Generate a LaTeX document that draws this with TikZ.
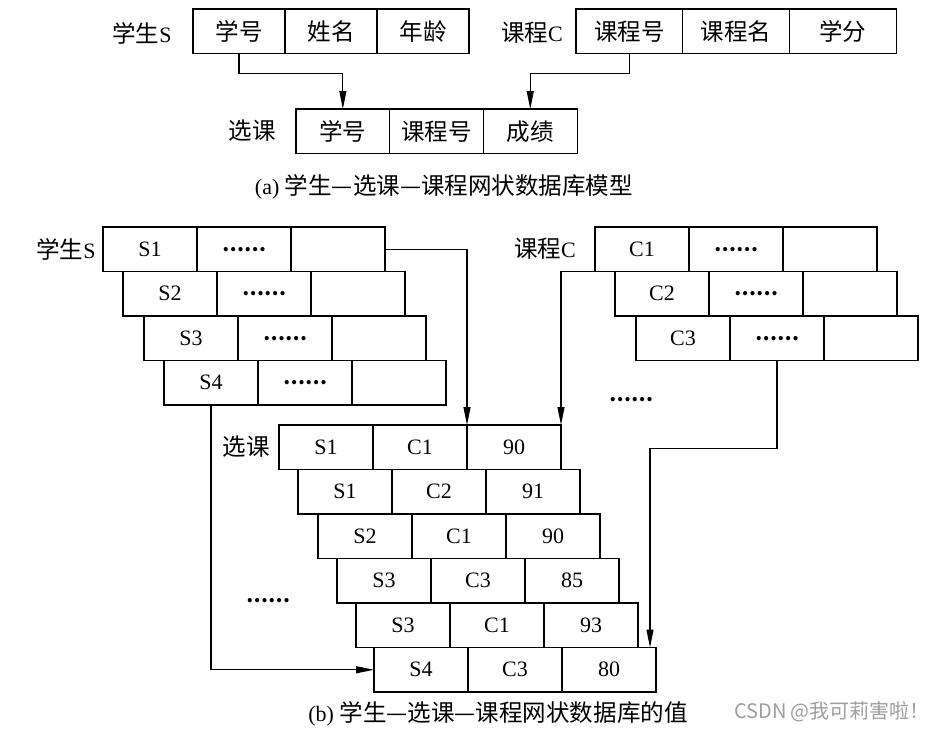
\documentclass[tikz,border=0pt]{standalone}
\usepackage{fontspec}
\setmainfont{Liberation Serif}
\newfontfamily\cjk[Scale=1.07]{Noto Sans CJK SC}
\newfontfamily\cjkwm{Noto Sans CJK SC}
\usetikzlibrary{arrows.meta}
\tikzset{
  cell/.style={draw, line width=1.1pt, minimum width=94pt, minimum height=44.5pt,
    inner sep=0pt, outer sep=0pt, anchor=north west, font=\fontsize{22}{26}\selectfont},
  lbl/.style={font=\fontsize{22}{26}\selectfont, inner sep=0pt},
  arr/.style={line width=1.1pt, -{Triangle[length=18pt,width=7pt]}},
  captxt/.style={font=\fontsize{22}{26}\selectfont, inner sep=0pt},
}
\newcommand{\dd}{{\fontsize{19.5}{24}\cjkwm\bfseries ……}}
\begin{document}
\begin{tikzpicture}[x=1pt,y=-1pt]
\useasboundingbox[fill=white] (0,0) rectangle (939,731);

% ---------- (a) ----------
\node[lbl] (lsA) at (142,33) {{\cjk 学生}S};
\node[cell, minimum width=92pt] (sA1) at (193,9) {\cjk 学号};
\node[cell, minimum width=92pt] (sA2) at (sA1.north east) {\cjk 姓名};
\node[cell, minimum width=92pt] (sA3) at (sA2.north east) {\cjk 年龄};

\node[lbl] (lcA) at (532,33) {{\cjk 课程}C};
\node[cell, minimum width=106.7pt] (cA1) at (576,9) {\cjk 课程号};
\node[cell, minimum width=106.7pt] (cA2) at (cA1.north east) {\cjk 课程名};
\node[cell, minimum width=106.7pt] (cA3) at (cA2.north east) {\cjk 学分};

\node[lbl] (lxA) at (252,131) {\cjk 选课};
\node[cell, minimum width=93.7pt] (xA1) at (296,109) {\cjk 学号};
\node[cell, minimum width=93.7pt] (xA2) at (xA1.north east) {\cjk 课程号};
\node[cell, minimum width=93.7pt] (xA3) at (xA2.north east) {\cjk 成绩};

\draw[arr] (sA1.south) -- ++(0,20) -| (xA1.north);
\draw[arr] (cA1.south) -- ++(0,20) -| (xA3.north);

\node[captxt] (capA) at (444,187) {(a) {\cjk 学生—选课—课程网状数据库模型}};

% ---------- (b) ----------
\node[lbl] (lsB) at (66,249) {{\cjk 学生}S};
\foreach \r/\x/\y/\t in {1/103/227/S1, 2/123/271.5/S2, 3/144/316/S3, 4/164/360.5/S4}{
  \node[cell] (s\r1) at (\x,\y) {\t};
  \node[cell] (s\r2) at (s\r1.north east) {\dd};
  \node[cell] (s\r3) at (s\r2.north east) {};
}

\node[lbl] (lcB) at (545,249) {{\cjk 课程}C};
\foreach \r/\x/\y/\t in {1/595/227/C1, 2/615/271.5/C2, 3/636/316/C3}{
  \node[cell] (c\r1) at (\x,\y) {\t};
  \node[cell] (c\r2) at (c\r1.north east) {\dd};
  \node[cell] (c\r3) at (c\r2.north east) {};
}

\node[lbl] (lxB) at (246,447) {\cjk 选课};
\foreach \r/\x/\y/\a/\b/\c in {1/279/425/S1/C1/90, 2/298/469.5/S1/C2/91, 3/318/514/S2/C1/90,
    4/337/558.5/S3/C3/85, 5/356/603/S3/C1/93, 6/374/647.5/S4/C3/80}{
  \node[cell] (x\r1) at (\x,\y) {\a};
  \node[cell] (x\r2) at (x\r1.north east) {\b};
  \node[cell] (x\r3) at (x\r2.north east) {\c};
}

\node[lbl] (dots1) at (631,400) {\dd};
\node[lbl] (dots2) at (268,601) {\dd};

\draw[arr] (s13.east) -| (x13.north west);
\draw[arr] (c11.south west) -| (x13.north east);
\draw[arr] (c32.south) -- ++(0,88) -| ([xshift=-6pt]x63.north east);
\draw[arr] (s41.south) |- (x61.west);

\node[captxt] (capB) at (498,714) {(b) {\cjk 学生—选课—课程网状数据库的值}};

\node[font=\fontsize{20}{24}\selectfont\cjkwm, text=black!38, inner sep=0pt] (wm) at (832,712) {CSDN @我可莉害啦！};
\end{tikzpicture}
\end{document}
